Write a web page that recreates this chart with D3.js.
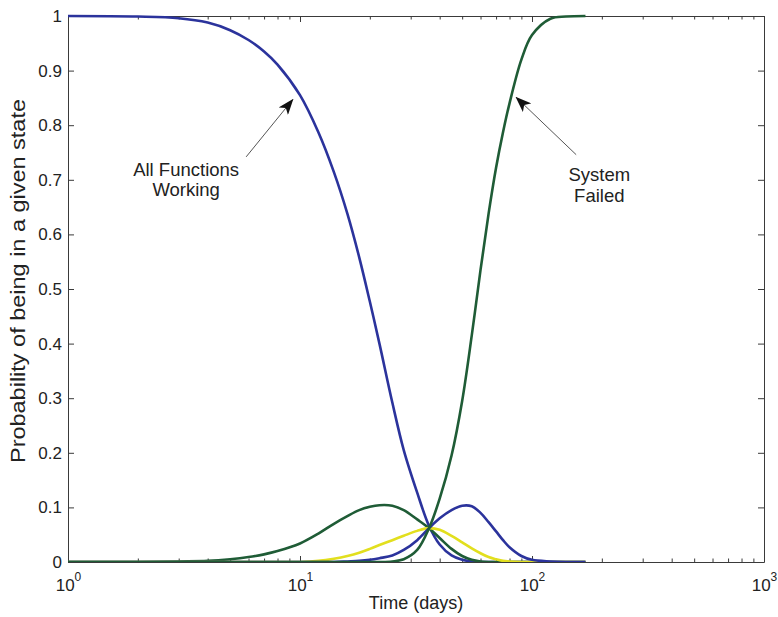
<!DOCTYPE html>
<html>
<head>
<meta charset="utf-8">
<script src="https://cdn.jsdelivr.net/npm/d3@7"></script>
<style>
  html, body { margin: 0; padding: 0; background: #fff; }
  svg { display: block; font-family: "Liberation Sans", Arial, Helvetica, sans-serif; }
</style>
</head>
<body>
<svg id="chart" width="778" height="617"></svg>
<script>
// Time grid (days) shared by every state curve
const timeDays = [1, 2, 3, 4, 5, 6, 7, 8, 10, 12, 14, 16, 18, 20, 22, 25, 28, 32, 36, 40,
                  45, 50, 55, 60, 65, 70, 75, 80, 90, 100, 120, 140, 170];

// State probabilities at each time
const allWorking   = [1.000, 0.999, 0.996, 0.988, 0.974, 0.956, 0.935, 0.911, 0.855, 0.787,
                      0.714, 0.638, 0.558, 0.477, 0.400, 0.292, 0.205, 0.127, 0.066, 0.032,
                      0.012, 0.004, 0.001, 0, 0, 0, 0, 0, 0, 0, 0, 0, 0];
const firstLoss    = [0, 0, 0.001, 0.002, 0.005, 0.009, 0.014, 0.020, 0.034, 0.052,
                      0.070, 0.084, 0.095, 0.101, 0.104, 0.103, 0.095, 0.078, 0.062, 0.044,
                      0.024, 0.011, 0.004, 0.001, 0, 0, 0, 0, 0, 0, 0, 0, 0];
const secondLoss   = [0, 0, 0, 0, 0, 0, 0, 0, 0, 0.002,
                      0.006, 0.011, 0.017, 0.024, 0.031, 0.040, 0.048, 0.057, 0.062, 0.059,
                      0.048, 0.036, 0.025, 0.016, 0.009, 0.005, 0.002, 0.001, 0, 0, 0, 0, 0];
const thirdLoss    = [0, 0, 0, 0, 0, 0, 0, 0, 0, 0,
                      0, 0.001, 0.002, 0.004, 0.007, 0.012, 0.022, 0.040, 0.062, 0.080,
                      0.095, 0.103, 0.102, 0.090, 0.073, 0.056, 0.040, 0.027, 0.011, 0.004, 0.001, 0, 0];
const systemFailed = [0, 0, 0, 0, 0, 0, 0, 0, 0, 0,
                      0, 0, 0, 0, 0, 0.001, 0.005, 0.022, 0.062, 0.116,
                      0.195, 0.295, 0.415, 0.535, 0.638, 0.722, 0.787, 0.840, 0.920, 0.965, 0.995, 0.999, 1.000];

// Axis ticks and labels
const xMajorTicks = [1, 10, 100, 1000];
const xMinorTicks = [2, 3, 4, 5, 6, 7, 8, 9, 20, 30, 40, 50, 60, 70, 80, 90,
                     200, 300, 400, 500, 600, 700, 800, 900];
const yTicks = [0, 0.1, 0.2, 0.3, 0.4, 0.5, 0.6, 0.7, 0.8, 0.9, 1];
const xTitle = "Time (days)";
const yTitle = "Probability of being in a given state";

const BLUE = "#2b339c", GREEN = "#1f5c36", YELLOW = "#e2df1e";
const series = [
  { values: allWorking,   color: BLUE },
  { values: firstLoss,    color: GREEN },
  { values: secondLoss,   color: YELLOW },
  { values: thirdLoss,    color: BLUE },
  { values: systemFailed, color: GREEN }
];

// Callouts: text anchor, arrow tail and arrow tip in data units
const callouts = [
  { lines: ["All Functions", "Working"], at: [3.23, 0.707], tail: [5.86, 0.742], tip: [9.31, 0.847] },
  { lines: ["System", "Failed"],         at: [195, 0.697],  tail: [155, 0.746],  tip: [85.5, 0.851] }
];

const W = 778, H = 617;
const margin = { top: 16, right: 14, bottom: 55, left: 68 };
const iw = W - margin.left - margin.right;
const ih = H - margin.top - margin.bottom;

const svg = d3.select("#chart");
const defs = svg.append("defs");
defs.append("clipPath").attr("id", "plot-area")
  .append("rect").attr("x", -2).attr("y", -2).attr("width", iw + 4).attr("height", ih + 2);

const g = svg.append("g").attr("transform", `translate(${margin.left},${margin.top})`);

const x = d3.scaleLog().domain([1, 1000]).range([0, iw]);
const y = d3.scaleLinear().domain([0, 1]).range([ih, 0]);

const AXIS = "#3a3a3a", TEXT = "#222";
const fs = 17;

function styleAxis(sel) {
  sel.selectAll("path, line").attr("stroke", AXIS).attr("stroke-width", 1);
  sel.selectAll("text").attr("fill", TEXT).attr("font-size", fs)
     .attr("font-family", '"Liberation Sans", Arial, sans-serif');
}

// Bottom axis: decades with 10^n labels, plus inward minor ticks
const gxb = g.append("g").attr("transform", `translate(0,${ih})`)
  .call(d3.axisBottom(x).tickValues(xMajorTicks).tickSize(-6).tickSizeOuter(0)
        .tickPadding(17).tickFormat(() => "10"));
gxb.selectAll(".tick text").each(function(d) {
  d3.select(this).append("tspan")
    .attr("dy", "-10").attr("font-size", 12)
    .text(Math.round(Math.log10(d)));
});
styleAxis(gxb);
const gxbm = g.append("g").attr("transform", `translate(0,${ih})`)
  .call(d3.axisBottom(x).tickValues(xMinorTicks).tickSize(-3.5).tickSizeOuter(0).tickFormat(""));
gxbm.select(".domain").remove();
styleAxis(gxbm);

// Top axis (ticks only)
const gxt = g.append("g")
  .call(d3.axisTop(x).tickValues(xMajorTicks).tickSize(-6).tickSizeOuter(0).tickFormat(""));
styleAxis(gxt);
const gxtm = g.append("g")
  .call(d3.axisTop(x).tickValues(xMinorTicks).tickSize(-3.5).tickSizeOuter(0).tickFormat(""));
gxtm.select(".domain").remove();
styleAxis(gxtm);

// Left and right axes
const gyl = g.append("g")
  .call(d3.axisLeft(y).tickValues(yTicks).tickSize(-6).tickSizeOuter(0)
        .tickPadding(6).tickFormat(d3.format("~g")));
styleAxis(gyl);
const gyr = g.append("g").attr("transform", `translate(${iw},0)`)
  .call(d3.axisRight(y).tickValues(yTicks).tickSize(-6).tickSizeOuter(0).tickFormat(""));
styleAxis(gyr);

// Axis titles
svg.append("text")
  .attr("x", margin.left + iw / 2).attr("y", 609)
  .attr("text-anchor", "middle").attr("font-size", 18).attr("fill", TEXT)
  .text(xTitle);
svg.append("text")
  .attr("transform", `translate(25,281) rotate(-90)`)
  .attr("text-anchor", "middle").attr("font-size", 19.5).attr("fill", TEXT)
  .attr("textLength", 364).attr("lengthAdjust", "spacingAndGlyphs")
  .text(yTitle);

// State curves
const line = d3.line()
  .x((d, i) => x(timeDays[i]))
  .y(d => y(d))
  .curve(d3.curveCatmullRom.alpha(0.5));

g.append("g").attr("clip-path", "url(#plot-area)")
  .selectAll("path").data(series).join("path")
  .attr("d", s => line(s.values))
  .attr("fill", "none")
  .attr("stroke", s => s.color)
  .attr("stroke-width", 2.6)
  .attr("stroke-linejoin", "round");

// Callout arrows and text
defs.append("marker")
  .attr("id", "head").attr("viewBox", "0 0 16 12")
  .attr("refX", 15).attr("refY", 6)
  .attr("markerWidth", 16).attr("markerHeight", 12)
  .attr("markerUnits", "userSpaceOnUse").attr("orient", "auto")
  .append("path").attr("d", "M0,0 L16,6 L0,12 L4,6 Z").attr("fill", "#111");

const cg = g.append("g");
callouts.forEach(c => {
  cg.append("line")
    .attr("x1", x(c.tail[0])).attr("y1", y(c.tail[1]))
    .attr("x2", x(c.tip[0])).attr("y2", y(c.tip[1]))
    .attr("stroke", "#555").attr("stroke-width", 1)
    .attr("marker-end", "url(#head)");
  const t = cg.append("text")
    .attr("x", x(c.at[0])).attr("y", y(c.at[1]))
    .attr("text-anchor", "middle").attr("font-size", 18.5).attr("fill", TEXT);
  c.lines.forEach((s, i) => {
    t.append("tspan").attr("x", x(c.at[0])).attr("dy", i === 0 ? 0 : 20.5).text(s);
  });
});
</script>
</body>
</html>
